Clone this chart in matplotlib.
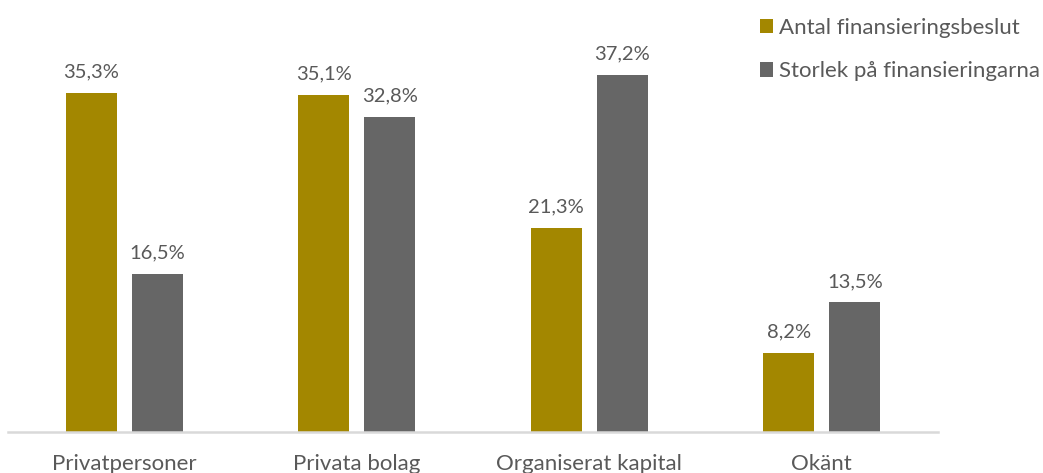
import matplotlib.pyplot as plt
import numpy as np

plt.rcParams['font.family'] = ['Lato', 'DejaVu Sans']

kategorier = ['Privatpersoner', 'Privata bolag', 'Organiserat kapital', 'Okänt']
antal = [35.3, 35.1, 21.3, 8.2]
storlek = [16.5, 32.8, 37.2, 13.5]
serier = ['Antal finansieringsbeslut', 'Storlek på finansieringarna']

guld = '#A38700'
gra = '#666666'
textfarg = '#595959'

fig = plt.figure(figsize=(10.43, 4.73), dpi=100)
ax = fig.add_axes([8 / 1043, 41 / 473, 930 / 1043, 432 / 473])

x = np.arange(len(kategorier))
w = 0.22
off = 0.142
b1 = ax.bar(x - off, antal, w, color=guld, label=serier[0])
b2 = ax.bar(x + off, storlek, w, color=gra, label=serier[1])

# värdeetiketter ovanför staplarna
for rects, vals in ((b1, antal), (b2, storlek)):
    for r, v in zip(rects, vals):
        ax.annotate(f'{v:.1f}%'.replace('.', ','),
                    (r.get_x() + r.get_width() / 2, v),
                    xytext=(0, 9), textcoords='offset points',
                    ha='center', va='bottom', fontsize=14.5, color=textfarg)

ax.set_xlim(-0.5, 3.5)
ax.set_ylim(0, 45)
ax.set_xticks(x)
ax.set_xticklabels(kategorier, fontsize=16, color=textfarg)
ax.tick_params(axis='x', length=0, pad=16)
ax.set_yticks([])
for s in ('top', 'right', 'left'):
    ax.spines[s].set_visible(False)
ax.spines['bottom'].set_color('#D9D9D9')
ax.spines['bottom'].set_linewidth(1.8)

leg = fig.legend(handles=[b1, b2], loc='upper left', bbox_to_anchor=(760 / 1043, 1 - 18 / 473),
                 frameon=False, fontsize=16, handlelength=0.6, handleheight=0.6,
                 handletextpad=0.25, labelspacing=1.05, borderpad=0, borderaxespad=0)
for t in leg.get_texts():
    t.set_color(textfarg)

fig.savefig('out.png', dpi=100)
